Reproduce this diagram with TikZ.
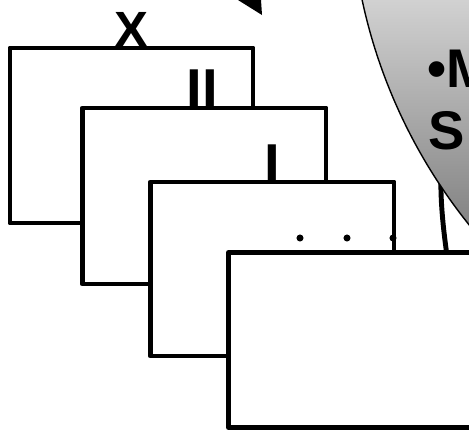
\documentclass[tikz,border=0pt]{standalone}
\usepackage{fontspec}
\setmainfont{Liberation Sans}
\begin{document}
\begin{tikzpicture}[x=0.02cm,y=-0.02cm,
  boxst/.style={draw=black,fill=white,line width=2.8pt,line join=round},
  lblx/.style={font=\fontsize{29}{29}\selectfont\bfseries,inner sep=0pt,anchor=base},
  lbli/.style={font=\fontsize{32}{32}\selectfont\bfseries,inner sep=0pt,anchor=base},
  graytxt/.style={font=\fontsize{31}{31}\selectfont\bfseries,inner sep=0pt,anchor=base west},
  dotst/.style={circle,fill=black,inner sep=0pt,minimum size=4pt}]
\useasboundingbox (0,0) rectangle (469,430);
\clip (0,0) rectangle (469,430);
% arrow tip at top
\fill (238,0) -- (261,0) -- (262,15) -- cycle;
% stacked boxes
\draw[boxst] (10,48) rectangle (253,223);
\node[lblx] (lx) at (131.5,47) {X};
\draw[boxst] (82.5,108) rectangle (326,284);
\node[lbli] (lii) at (202.5,108) {II};
\draw[boxst] (150.5,182) rectangle (394,356);
\node[lbli] (li) at (272,183) {I};
\node[dotst] (d1) at (300,238) {};
\node[dotst] (d2) at (347,238) {};
\node[dotst] (d3) at (393,238) {};
% thick arc behind the grey shape
\draw[line width=2.8pt] (441,170) .. controls (440,205) and (444,235) .. (449,270);
% grey shaded shape
\begin{scope}
  \clip (892,-114) circle [radius=10.84cm];
  \shade[top color=black!18,bottom color=black!50] (340,0) rectangle (480,235);
\end{scope}
\draw[line width=0.8pt] (892,-114) circle [radius=10.84cm];
\node[graytxt] (t1) at (427,87) {•M};
\node[graytxt] (t2) at (428,149) {S};
% front box
\draw[boxst] (228.5,252.5) rectangle (520,427.5);
\end{tikzpicture}
\end{document}
